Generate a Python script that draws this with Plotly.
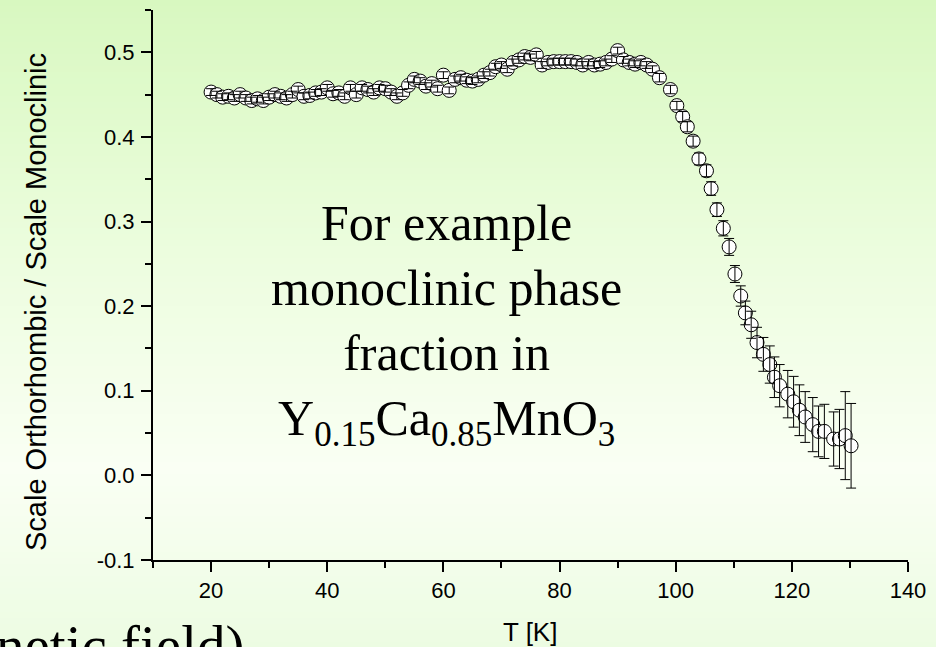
import plotly.graph_objects as go

# ---- data ----
temperature_K = [20, 21, 22, 23, 24, 25, 26, 27, 28, 29, 30, 31, 32, 33, 34, 35, 36, 37, 38, 39,
                 40, 41, 42, 43, 44, 45, 46, 47, 48, 49, 50, 51, 52, 53, 54, 55, 56, 57, 58, 59,
                 60, 61, 62, 63, 64, 65, 66, 67, 68, 69, 70, 71, 72, 73, 74, 75, 76, 77, 78, 79,
                 80, 81, 82, 83, 84, 85, 86, 87, 88, 89, 90, 91, 92, 93, 94, 95, 96,
                 97.2, 99.1, 100.2, 101.2, 102, 103, 104, 105.3, 106.1, 107.1, 108.2, 109.2,
                 110.2, 111.2, 112, 113, 114, 115.1, 116.2, 117, 117.9, 119.3, 120.3, 121.3,
                 122.3, 123.6, 124.6, 125.6, 127.2, 128.2, 129.2, 130.2]
scale_ratio = [0.453, 0.450, 0.447, 0.448, 0.446, 0.450, 0.446, 0.443, 0.445, 0.443,
               0.447, 0.450, 0.448, 0.446, 0.450, 0.456, 0.448, 0.449, 0.452, 0.453,
               0.458, 0.451, 0.452, 0.448, 0.458, 0.450, 0.458, 0.456, 0.453, 0.458,
               0.457, 0.453, 0.448, 0.452, 0.461, 0.468, 0.466, 0.460, 0.463, 0.457,
               0.473, 0.455, 0.468, 0.470, 0.467, 0.466, 0.468, 0.473, 0.476, 0.483,
               0.485, 0.480, 0.488, 0.491, 0.495, 0.494, 0.497, 0.485, 0.488, 0.489,
               0.489, 0.489, 0.489, 0.488, 0.485, 0.488, 0.485, 0.486, 0.488, 0.492,
               0.502, 0.491, 0.488, 0.486, 0.488, 0.485, 0.480,
               0.470, 0.456, 0.437, 0.424, 0.412, 0.395, 0.374, 0.360, 0.339, 0.314, 0.292, 0.270,
               0.238, 0.212, 0.192, 0.178, 0.157, 0.143, 0.131, 0.116, 0.106, 0.096, 0.087, 0.077,
               0.069, 0.060, 0.052, 0.052, 0.043, 0.043, 0.047, 0.035]
scale_error = [0.004] * 77 + [
               0.005, 0.005, 0.005, 0.006, 0.006, 0.006, 0.007, 0.007, 0.008, 0.008, 0.009, 0.010,
               0.010, 0.012, 0.014, 0.016, 0.018, 0.020, 0.022, 0.024, 0.025, 0.028, 0.030, 0.030,
               0.030, 0.032, 0.030, 0.032, 0.032, 0.035, 0.052, 0.050]

x_tick_vals = [20, 40, 60, 80, 100, 120, 140]
x_tick_text = ["20", "40", "60", "80", "100", "120", "140"]
y_tick_vals = [-0.1, 0.0, 0.1, 0.2, 0.3, 0.4, 0.5]
y_tick_text = ["-0.1", "0.0", "0.1", "0.2", "0.3", "0.4", "0.5"]

W, H = 936, 647
ML, MR, MT, MB = 153, 28, 10, 87
PW, PH = W - ML - MR, H - MT - MB

def px_to_paper_x(px):
    return (px - ML) / PW

def px_to_paper_y(py):
    return (H - MB - py) / PH

fig = go.Figure()

# background gradient (strips)
stops = [(0, (216, 248, 192)), (250, (236, 253, 222)), (470, (250, 255, 244)), (647, (236, 252, 226))]
def col_at(y):
    for (y0, c0), (y1, c1) in zip(stops[:-1], stops[1:]):
        if y0 <= y <= y1:
            t = (y - y0) / (y1 - y0)
            return tuple(int(round(a + (b - a) * t)) for a, b in zip(c0, c1))
    return stops[-1][1]

shapes = []
step = 6
for y in range(0, H, step):
    c = col_at(y + step / 2)
    shapes.append(dict(type="rect", xref="paper", yref="paper", layer="below",
                       x0=px_to_paper_x(-2), x1=px_to_paper_x(W + 2),
                       y0=px_to_paper_y(y + step + 1), y1=px_to_paper_y(y),
                       fillcolor="rgb(%d,%d,%d)" % c, line=dict(width=0)))

fig.add_trace(go.Scatter(
    x=temperature_K, y=scale_ratio, mode="markers",
    marker=dict(symbol="circle", size=14, color="white", line=dict(color="black", width=1)),
    showlegend=False, hoverinfo="x+y"))
fig.add_trace(go.Scatter(
    x=temperature_K, y=scale_ratio, mode="markers",
    marker=dict(size=1, color="rgba(0,0,0,0)"),
    error_y=dict(type="data", array=scale_error, visible=True, color="black", thickness=1, width=5),
    showlegend=False, hoverinfo="skip"))

axis_common = dict(showline=True, linecolor="black", linewidth=2, ticks="outside", ticklen=10,
                   tickwidth=2, tickcolor="black", showgrid=False, zeroline=False,
                   tickfont=dict(family="Arial, Liberation Sans", size=22, color="black"))

fig.update_xaxes(range=[10, 140], tickvals=x_tick_vals, ticktext=x_tick_text,
                 minor=dict(ticks="outside", ticklen=6, tickwidth=2, tickcolor="black", dtick=10, tick0=10),
                 **axis_common)
fig.update_yaxes(range=[-0.1, 0.55], tickvals=y_tick_vals, ticktext=y_tick_text, ticklabelstandoff=2,
                 minor=dict(ticks="outside", ticklen=6, tickwidth=2, tickcolor="black", dtick=0.05, tick0=-0.05),
                 **axis_common)

annotations = [
    dict(text="Scale Orthorhombic / Scale Monoclinic", textangle=-90, xref="paper", yref="paper",
         x=px_to_paper_x(36), y=px_to_paper_y(302), xanchor="center", yanchor="middle", showarrow=False,
         font=dict(family="Arial, Liberation Sans", size=29, color="black")),
    dict(text="T [K]", xref="paper", yref="paper", x=px_to_paper_x(530), y=px_to_paper_y(632),
         xanchor="center", yanchor="middle",
         showarrow=False, font=dict(family="Arial, Liberation Sans", size=26, color="black")),
    dict(text="For example<br>monoclinic phase<br>fraction in<br>Y<sub>0.15</sub>Ca<sub>0.85</sub>MnO<sub>3</sub>",
         xref="paper", yref="paper", x=px_to_paper_x(446), y=px_to_paper_y(324),
         xanchor="center", yanchor="middle", showarrow=False, align="center",
         font=dict(family="Times New Roman, Liberation Serif", size=50, color="black")),
    dict(text="netic field)", xref="paper", yref="paper", x=px_to_paper_x(-6), y=px_to_paper_y(612),
         xanchor="left", yanchor="top", showarrow=False,
         font=dict(family="Times New Roman, Liberation Serif", size=57, color="black")),
]

fig.update_layout(width=W, height=H, margin=dict(l=ML, r=MR, t=MT, b=MB, pad=0),
                  paper_bgcolor="rgb(240,253,230)", plot_bgcolor="rgba(0,0,0,0)",
                  shapes=shapes, annotations=annotations)

fig.write_html("out.html", config={"displayModeBar": False},
               post_script="document.body.style.margin='0';document.body.style.padding='0';")
